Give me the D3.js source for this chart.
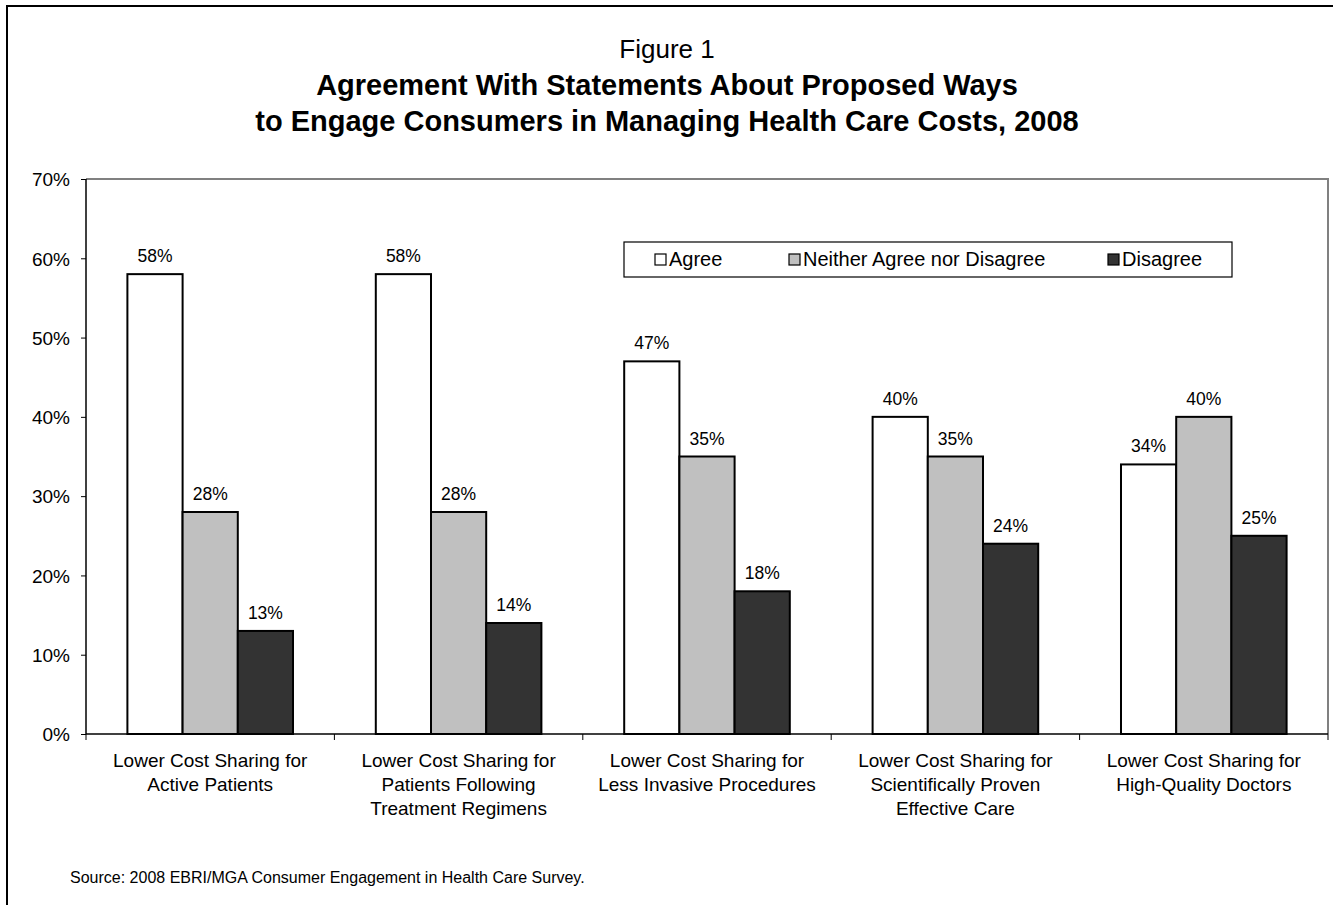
<!DOCTYPE html>
<html>
<head>
<meta charset="utf-8">
<script src="https://cdn.jsdelivr.net/npm/d3@7"></script>
<style>
  body { margin: 0; background: #fff; }
  svg text { font-family: Arial, "Liberation Sans", sans-serif; fill: #000; }
</style>
</head>
<body>
<svg id="chart" width="1333" height="905"></svg>
<script>
// chart values
const categories = [
  ["Lower Cost Sharing for", "Active Patients"],
  ["Lower Cost Sharing for", "Patients Following", "Treatment Regimens"],
  ["Lower Cost Sharing for", "Less Invasive Procedures"],
  ["Lower Cost Sharing for", "Scientifically Proven", "Effective Care"],
  ["Lower Cost Sharing for", "High-Quality Doctors"]
];
const series = ["Agree", "Neither Agree nor Disagree", "Disagree"];
const agree = [58, 58, 47, 40, 34];
const neither = [28, 28, 35, 35, 40];
const disagree = [13, 14, 18, 24, 25];
const yTicks = [0, 10, 20, 30, 40, 50, 60, 70];
const colors = ["#ffffff", "#c0c0c0", "#333333"];

const values = [agree, neither, disagree];

const svg = d3.select("#chart");

const plotLeft = 86, plotRight = 1328, plotTop = 179, plotBottom = 734;

// outer frame
svg.append("rect")
  .attr("x", 7).attr("y", 6)
  .attr("width", 1340).attr("height", 920)
  .style("fill", "none").style("stroke", "#000").style("stroke-width", 2);

// titles
svg.append("text").attr("x", 667).attr("y", 58)
  .attr("text-anchor", "middle").style("font-size", "26px")
  .text("Figure 1");
svg.append("text").attr("x", 667).attr("y", 95)
  .attr("text-anchor", "middle").style("font-size", "29px").style("font-weight", "bold")
  .text("Agreement With Statements About Proposed Ways");
svg.append("text").attr("x", 667).attr("y", 131)
  .attr("text-anchor", "middle").style("font-size", "29px").style("font-weight", "bold")
  .text("to Engage Consumers in Managing Health Care Costs, 2008");

const idx = d3.range(categories.length);

const x = d3.scaleBand().domain(idx).range([plotLeft, plotRight]).padding(0);
const xs = d3.scaleBand().domain(d3.range(series.length))
  .range([0, x.bandwidth()]).paddingInner(0).paddingOuter(0.75);
const y = d3.scaleLinear().domain([0, 70]).range([plotBottom, plotTop]);

// plot area border (top and right)
svg.append("path")
  .attr("d", `M${plotLeft},${y(70)}H${plotRight}V${plotBottom}`)
  .style("fill", "none").style("stroke", "#808080").style("stroke-width", 2);

// bars
const groups = svg.append("g").selectAll("g")
  .data(idx).join("g")
  .attr("transform", i => `translate(${x(i)},0)`);

groups.selectAll("rect")
  .data(i => values.map((v, s) => ({s: s, v: v[i]})))
  .join("rect")
  .attr("x", d => xs(d.s))
  .attr("y", d => y(d.v))
  .attr("width", xs.bandwidth())
  .attr("height", d => y(0) - y(d.v))
  .style("fill", d => colors[d.s])
  .style("stroke", "#000").style("stroke-width", 2);

groups.selectAll("text.val")
  .data(i => values.map((v, s) => ({s: s, v: v[i]})))
  .join("text").attr("class", "val")
  .attr("x", d => xs(d.s) + xs.bandwidth() / 2)
  .attr("y", d => y(d.v) - 12)
  .attr("text-anchor", "middle")
  .style("font-size", "17.5px")
  .text(d => d.v + "%");

// y axis
const yAxis = svg.append("g")
  .attr("transform", `translate(${plotLeft},0)`)
  .call(d3.axisLeft(y).tickValues(yTicks).tickFormat(d => d + "%").tickSize(5).tickPadding(11));
yAxis.select(".domain").attr("d", `M0,${y(70)}V${plotBottom}`).style("stroke", "#000").style("stroke-width", 1.5);
yAxis.selectAll(".tick line").style("stroke", "#000");
yAxis.selectAll(".tick text").style("font-size", "19px").style("font-family", "Arial, 'Liberation Sans', sans-serif").attr("dy", "0.36em");

// x axis: boundaries between categories
const bounds = idx.map(i => x(i)).concat([plotRight]);
const xAxis = svg.append("g");
xAxis.append("line")
  .attr("x1", plotLeft).attr("x2", plotRight).attr("y1", plotBottom).attr("y2", plotBottom)
  .style("stroke", "#000").style("stroke-width", 1.5);
xAxis.selectAll("line.tick")
  .data(bounds).join("line").attr("class", "tick")
  .attr("x1", d => d).attr("x2", d => d)
  .attr("y1", plotBottom).attr("y2", plotBottom + 6)
  .style("stroke", "#000");

// category labels
const catText = svg.append("g").selectAll("text")
  .data(idx).join("text")
  .attr("text-anchor", "middle")
  .style("font-size", "19px");
catText.selectAll("tspan")
  .data(i => categories[i].map(t => ({t: t, i: i})))
  .join("tspan")
  .attr("x", d => x(d.i) + x.bandwidth() / 2)
  .attr("y", (d, k) => 767 + k * 24)
  .text(d => d.t);

// legend
const legend = svg.append("g");
legend.append("rect")
  .attr("x", 624).attr("y", 242).attr("width", 608).attr("height", 35)
  .style("fill", "#fff").style("stroke", "#000").style("stroke-width", 1.2);
const legX = [655, 789, 1108];
const items = legend.selectAll("g")
  .data(series).join("g")
  .attr("transform", (d, s) => `translate(${legX[s]},254)`);
items.append("rect")
  .attr("width", 11).attr("height", 11)
  .style("fill", (d, s) => colors[s])
  .style("stroke", "#000").style("stroke-width", 1.2);
items.append("text")
  .attr("x", 14).attr("y", 12)
  .style("font-size", "20px")
  .text(d => d);

// source
svg.append("text")
  .attr("x", 70).attr("y", 883)
  .style("font-size", "16px")
  .text("Source: 2008 EBRI/MGA Consumer Engagement in Health Care Survey.");
</script>
</body>
</html>
